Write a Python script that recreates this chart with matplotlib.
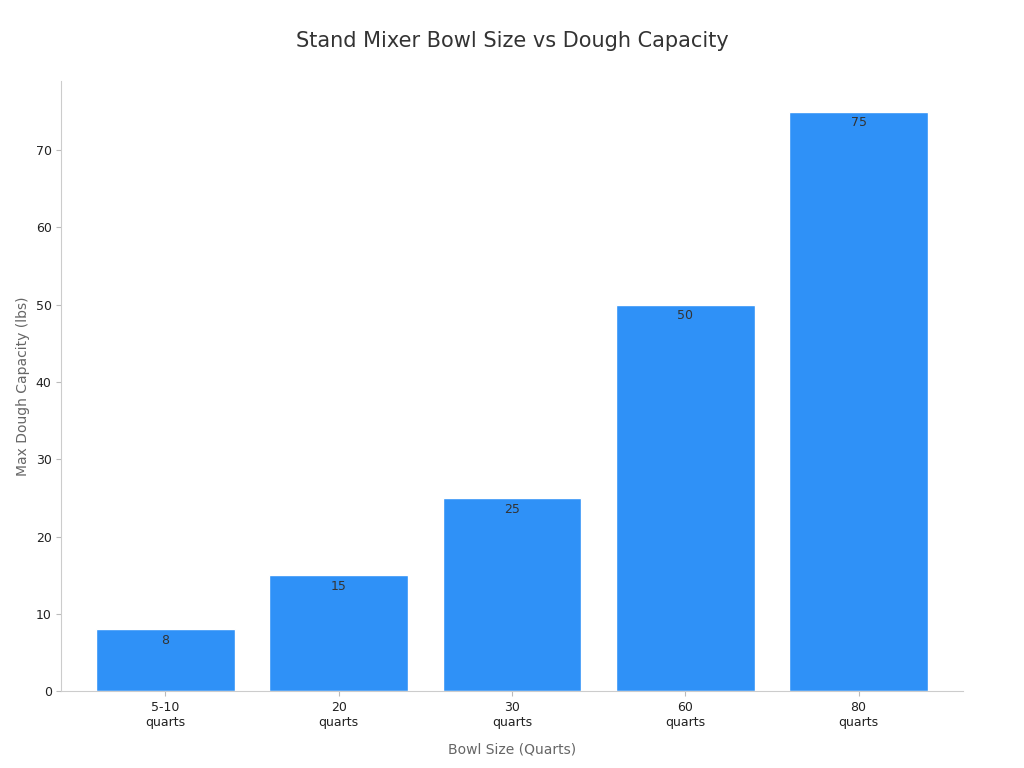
import matplotlib
matplotlib.use("Agg")
from matplotlib import pyplot as plt

categories = ["5-10\nquarts", "20\nquarts", "30\nquarts", "60\nquarts", "80\nquarts"]
capacity = [8, 15, 25, 50, 75]

fig, ax = plt.subplots(figsize=(10.24, 7.68), dpi=100)
fig.subplots_adjust(left=0.06, right=0.94, top=0.895, bottom=0.1)

bars = ax.bar(range(len(categories)), capacity, width=0.8, color='#2f91f7',
              edgecolor='white', linewidth=1)
for i, v in enumerate(capacity):
    ax.text(i, v - 0.6, str(v), ha='center', va='top', fontsize=9, color='#333333')

ax.set_xticks(range(len(categories)))
ax.set_xticklabels(categories, fontsize=9, color='#222222')
ax.tick_params(axis='y', labelsize=9, colors='#222222')
ax.tick_params(axis='both', color='#bbbbbb')
ax.set_xlim(-0.6, 4.6)
ax.set_ylim(0, 79)
ax.set_yticks(range(0, 80, 10))
ax.set_xlabel('Bowl Size (Quarts)', fontsize=10, color='#666666', labelpad=10)
ax.set_ylabel('Max Dough Capacity (lbs)', fontsize=10, color='#666666')
fig.suptitle('Stand Mixer Bowl Size vs Dough Capacity', fontsize=15, color='#333333', y=0.96)

for s in ['top', 'right']:
    ax.spines[s].set_visible(False)
for s in ['left', 'bottom']:
    ax.spines[s].set_color('#cccccc')

plt.savefig('out.png')
